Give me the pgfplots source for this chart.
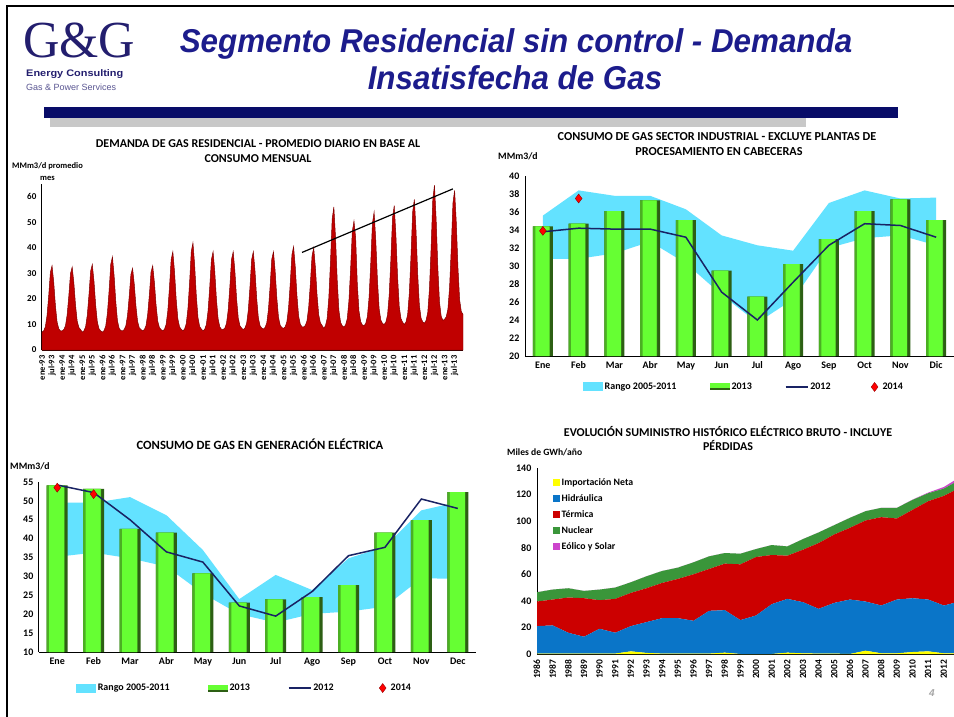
\documentclass[border=0pt]{standalone}
\usepackage{fontspec}
\setmainfont{Carlito}
\newfontfamily\arialf{Liberation Sans}
\newfontfamily\timesf{Liberation Serif}
\usepackage{pgfplots}
\usepackage{pgfplotstable}
\pgfplotsset{compat=1.18}

\definecolor{titlenavy}{RGB}{28,28,140}
\definecolor{barnavy}{RGB}{8,12,104}
\definecolor{graybar}{RGB}{200,200,200}
\definecolor{logonavy}{RGB}{35,30,110}
\definecolor{band}{RGB}{99,226,255}
\definecolor{gbr}{RGB}{102,255,51}
\definecolor{gdk}{RGB}{75,175,35}
\definecolor{gdd}{RGB}{45,95,20}
\definecolor{line12}{RGB}{25,35,100}
\definecolor{resred}{RGB}{192,0,0}
\definecolor{resdark}{RGB}{130,0,0}
\definecolor{imp}{RGB}{255,255,0}
\definecolor{hyd}{RGB}{10,117,200}
\definecolor{ter}{RGB}{204,0,0}
\definecolor{nuc}{RGB}{58,150,58}
\definecolor{eol}{RGB}{204,68,204}

\pgfplotstableread[row sep=\\]{
x y\\ 0 34.4\\ 1 34.7\\ 2 36.1\\ 3 37.3\\ 4 35.1\\ 5 29.5\\ 6 26.6\\ 7 30.2\\ 8 33.0\\ 9 36.1\\ 10 37.4\\ 11 35.1\\
}\indbars
\pgfplotstableread[row sep=\\]{
x y\\ 0 54.1\\ 1 53.2\\ 2 42.6\\ 3 41.6\\ 4 30.8\\ 5 23.1\\ 6 23.9\\ 7 24.5\\ 8 27.7\\ 9 41.6\\ 10 44.9\\ 11 52.3\\
}\elebars

\pgfplotsset{
  ggaxis/.style={scale only axis, anchor=south west, axis x line=bottom, axis y line=left,
    axis line style={-, black, line width=1pt}, tick style={draw=none},
    tick label style={font=\bfseries\fontsize{10}{12}\selectfont},
    /pgf/number format/assume math mode=true, clip=true},
  monthaxis/.style={xmin=-0.5, xmax=11.5, xtick={0,...,11}},
  ggleg/.style={legend style={draw=none, fill=none, legend columns=4, legend cell align=left,
    font=\bfseries\fontsize{10}{12}\selectfont,
    /tikz/every even column/.append style={column sep=#1}}},
  bandleg/.style={legend image code/.code={\fill[band] (0pt,-4.5pt) rectangle (20pt,4.5pt);}},
  barleg/.style={legend image code/.code={\fill[gbr] (0pt,-3.5pt) rectangle (20pt,3.5pt); \fill[gdd] (0pt,-3.5pt) rectangle (20pt,-1.5pt);}},
  lineleg/.style={legend image code/.code={\draw[line12, line width=1.5pt] (0pt,0pt) -- (22pt,0pt);}},
  diamleg/.style={legend image code/.code={\path[draw=none, fill=none] (0pt,-1pt) rectangle (17pt,1pt); \path[fill=red, draw=red!60!black] (11pt,4.5pt) -- (14.4pt,0pt) -- (11pt,-4.5pt) -- (7.6pt,0pt) -- cycle;}},
  boxleg/.style={legend image code/.code={\fill[#1] (0pt,-3.5pt) rectangle (7pt,3.5pt);}},
}

\begin{document}
\begin{tikzpicture}
\useasboundingbox (0pt,0pt) rectangle (954pt,-717pt);
\fill[white] (0pt,0pt) rectangle (954pt,-717pt);
% frame
\draw[black, line width=2pt] (7pt,-717pt) -- (7pt,-6pt) -- (954pt,-6pt);
% logo
\node[anchor=base west, inner sep=0, font=\timesf\fontsize{52}{52}\selectfont, text=logonavy, xscale=0.97] at (23pt,-58pt) {G\&G};
\node[anchor=base west, inner sep=0, font=\arialf\bfseries\fontsize{9.5}{10}\selectfont, text=logonavy, xscale=1.15] at (26pt,-77pt) {Energy Consulting};
\node[anchor=base west, inner sep=0, font=\arialf\fontsize{9}{10}\selectfont, text=logonavy!75, xscale=1.0] at (26pt,-91pt) {Gas \& Power Services};
% main title
\node[anchor=base, inner sep=0, font=\arialf\bfseries\itshape\fontsize{33}{33}\selectfont, text=titlenavy, xscale=0.95] at (516pt,-53pt) {Segmento Residencial sin control - Demanda};
\node[anchor=base, inner sep=0, font=\arialf\bfseries\itshape\fontsize{33}{33}\selectfont, text=titlenavy, xscale=0.95] at (515pt,-90pt) {Insatisfecha de Gas};
% bars under title
\fill[graybar] (50pt,-118pt) rectangle (806pt,-127pt);
\fill[barnavy] (44pt,-107pt) rectangle (898pt,-118pt);

% ---------------- chart 1 ----------------
\node[anchor=base, font=\bfseries\fontsize{12}{14}\selectfont] at (258pt,-147pt) {DEMANDA DE GAS RESIDENCIAL - PROMEDIO DIARIO EN BASE AL};
\node[anchor=base, font=\bfseries\fontsize{12}{14}\selectfont] at (258pt,-162pt) {CONSUMO MENSUAL};
\node[anchor=base west, inner sep=0, font=\bfseries\fontsize{8.5}{10}\selectfont] at (12pt,-168pt) {MMm3/d promedio};
\node[anchor=base west, inner sep=0, font=\bfseries\fontsize{8.5}{10}\selectfont] at (40pt,-180pt) {mes};
\begin{axis}[ggaxis, at={(42pt,-350pt)}, width=421pt, height=166pt,
  xmin=0, xmax=251, ymin=0, ymax=65, ytick={0,10,...,60},
  xtick={0,6,...,246},
  xticklabels={ene-93,jul-93,ene-94,jul-94,ene-95,jul-95,ene-96,jul-96,ene-97,jul-97,ene-98,jul-98,ene-99,jul-99,ene-00,jul-00,ene-01,jul-01,ene-02,jul-02,ene-03,jul-03,ene-04,jul-04,ene-05,jul-05,ene-06,jul-06,ene-07,jul-07,ene-08,jul-08,ene-09,jul-09,ene-10,jul-10,ene-11,jul-11,ene-12,jul-12,ene-13,jul-13},
  xticklabel style={rotate=90, anchor=east, font=\bfseries\fontsize{8.5}{9}\selectfont},
  yticklabel style={font=\bfseries\fontsize{9}{10}\selectfont}]
\addplot[fill=resred, draw=resdark, line width=0.5pt] table[row sep=\\, header=false, x expr=\coordindex, y index=0] {
7\\7.5\\9.1\\13.5\\21.3\\30.4\\33\\26.5\\17.4\\10.9\\8.3\\7.5\\
7.5\\8\\9.5\\13.8\\21.3\\30\\32.5\\26.3\\17.5\\11.3\\8.8\\8\\
7\\7.5\\9.1\\13.6\\21.6\\30.9\\33.5\\26.9\\17.6\\11\\8.3\\7.5\\
7\\7.6\\9.4\\14.4\\23.2\\33.6\\36.5\\29.1\\18.8\\11.4\\8.5\\7.6\\
7.5\\8\\9.5\\13.6\\21\\29.6\\32\\25.9\\17.3\\11.2\\8.7\\8\\
7.5\\8\\9.5\\13.9\\21.5\\30.5\\33\\26.6\\17.7\\11.3\\8.8\\8\\
7.5\\8.1\\10\\15.3\\24.6\\35.4\\38.5\\30.8\\19.9\\12.2\\9.1\\8.1\\
7.5\\8.2\\10.3\\16.1\\26.5\\38.6\\42\\33.4\\21.3\\12.7\\9.2\\8.2\\
7.5\\8.1\\10\\15.3\\24.6\\35.4\\38.5\\30.8\\19.9\\12.2\\9.1\\8.1\\
8\\8.6\\10.4\\15.6\\24.8\\35.5\\38.5\\30.9\\20.2\\12.6\\9.5\\8.6\\
8\\8.6\\10.4\\15.6\\24.8\\35.5\\38.5\\30.9\\20.2\\12.6\\9.5\\8.6\\
8.2\\8.8\\10.6\\15.8\\25\\35.6\\38.5\\31\\20.4\\12.8\\9.7\\8.8\\
8.5\\9.1\\11.1\\16.5\\26.1\\37.3\\40.5\\32.5\\21.3\\13.3\\10.1\\9.1\\
9\\9.6\\11.5\\16.8\\26.1\\36.9\\40\\32.3\\21.4\\13.7\\10.6\\9.6\\
8.5\\9.5\\12.3\\20.4\\34.6\\51.3\\56\\44.1\\27.5\\15.6\\10.9\\9.5\\
9\\9.8\\12.3\\19.4\\31.8\\46.4\\50.5\\44\\25.6\\15.2\\11.1\\9.8\\
9.5\\10.4\\13.1\\20.6\\34\\49.6\\54\\42.9\\27.3\\16.2\\11.7\\10.4\\
10\\10.9\\13.7\\21.6\\35.6\\51.9\\56.5\\44.9\\28.6\\17\\12.3\\10.9\\
10\\11\\13.9\\22.3\\37\\54.1\\59\\46.8\\29.6\\17.4\\12.5\\11\\
10.5\\11.6\\14.8\\24\\40.2\\59.1\\64.5\\51\\32.1\\18.6\\13.2\\11.6\\
12\\13\\16\\24.6\\39.8\\57.5\\62.5\\49.9\\32.2\\19.6\\15\\14\\
} \closedcycle;
\addplot[black, line width=1.2pt] coordinates {(155,38.2) (245,63.1)};
\end{axis}

% ---------------- chart 2 ----------------
\node[anchor=base, font=\bfseries\fontsize{12.2}{14}\selectfont] at (717pt,-140pt) {CONSUMO DE GAS SECTOR INDUSTRIAL - EXCLUYE PLANTAS DE};
\node[anchor=base, font=\bfseries\fontsize{12.2}{14}\selectfont] at (719pt,-155pt) {PROCESAMIENTO EN CABECERAS};
\node[anchor=base west, inner sep=0, font=\bfseries\fontsize{9.8}{11}\selectfont] at (498pt,-159pt) {MMm3/d};
\begin{axis}[ggaxis, monthaxis, at={(525pt,-356pt)}, width=429pt, height=180pt,
  ymin=20, ymax=40, ytick={20,22,...,40},
  xticklabels={Ene,Feb,Mar,Abr,May,Jun,Jul,Ago,Sep,Oct,Nov,Dic},
  ggleg=31pt, legend style={at={(0.51,-0.172)}, anchor=center}]
\addplot[fill=band, draw=none, bandleg] coordinates {
(0,35.6) (1,38.4) (2,37.8) (3,37.8) (4,36.3) (5,33.4) (6,32.3) (7,31.7) (8,37.0) (9,38.4) (10,37.5) (11,37.6)
(11,32.3) (10,33.4) (9,33.1) (8,32.0) (7,26.3) (6,23.7) (5,26.8) (4,30.3) (3,32.7) (2,31.4) (1,30.8) (0,30.8)};
\addplot[ybar, bar width=20pt, bar shift=0pt, draw=none, fill=gdd, barleg] table[x=x, y=y] {\indbars};
\addplot[ybar, bar width=17pt, bar shift=-1.5pt, draw=none, fill=gdk, forget plot] table[x=x, y=y] {\indbars};
\addplot[ybar, bar width=14pt, bar shift=-0.5pt, draw=none, fill=gbr, forget plot] table[x=x, y=y] {\indbars};
\addplot[line12, line width=1.5pt, lineleg] coordinates {
(0,33.8) (1,34.2) (2,34.1) (3,34.1) (4,33.2) (5,27.1) (6,24.0) (7,28.2) (8,32.3) (9,34.7) (10,34.5) (11,33.2)};
\addplot[only marks, mark=diamond*, mark size=4.5pt, mark options={fill=red, draw=red!60!black}, diamleg] coordinates {(0,33.9) (1,37.5)};
\legend{Rango 2005-2011, 2013, 2012, 2014}
\end{axis}

% ---------------- chart 3 ----------------
\node[anchor=base, font=\bfseries\fontsize{12.6}{14}\selectfont] at (260pt,-449pt) {CONSUMO DE GAS EN GENERACIÓN ELÉCTRICA};
\node[anchor=base west, inner sep=0, font=\bfseries\fontsize{9.8}{11}\selectfont] at (10pt,-469pt) {MMm3/d};
\begin{axis}[ggaxis, monthaxis, at={(39pt,-652pt)}, width=437pt, height=170pt,
  ymin=10, ymax=55, ytick={10,15,...,55},
  xticklabels={Ene,Feb,Mar,Abr,May,Jun,Jul,Ago,Sep,Oct,Nov,Dec},
  ggleg=36pt, legend style={at={(0.47,-0.212)}, anchor=center}]
\addplot[fill=band, draw=none, bandleg] coordinates {
(0,49.6) (1,49.5) (2,51.0) (3,46.2) (4,37.0) (5,24.0) (6,30.4) (7,26.4) (8,34.8) (9,37.9) (10,47.5) (11,49.7)
(11,29.4) (10,29.5) (9,22.0) (8,20.7) (7,20.1) (6,17.8) (5,20.0) (4,25.5) (3,32.6) (2,34.8) (1,36.3) (0,35.2)};
\addplot[ybar, bar width=21pt, bar shift=0pt, draw=none, fill=gdd, barleg] table[x=x, y=y] {\elebars};
\addplot[ybar, bar width=18pt, bar shift=-1.5pt, draw=none, fill=gdk, forget plot] table[x=x, y=y] {\elebars};
\addplot[ybar, bar width=15pt, bar shift=-0.5pt, draw=none, fill=gbr, forget plot] table[x=x, y=y] {\elebars};
\addplot[line12, line width=1.5pt, lineleg] coordinates {
(0,54.2) (1,52.2) (2,45.0) (3,36.5) (4,33.8) (5,22.2) (6,19.5) (7,26.0) (8,35.5) (9,37.7) (10,50.5) (11,48.0)};
\addplot[only marks, mark=diamond*, mark size=4.5pt, mark options={fill=red, draw=red!60!black}, diamleg] coordinates {(0,53.5) (1,51.8)};
\legend{Rango 2005-2011, 2013, 2012, 2014}
\end{axis}

% ---------------- chart 4 ----------------
\node[anchor=base, font=\bfseries\fontsize{12}{14}\selectfont] at (728pt,-436pt) {EVOLUCIÓN SUMINISTRO HISTÓRICO ELÉCTRICO BRUTO - INCLUYE};
\node[anchor=base, font=\bfseries\fontsize{12}{14}\selectfont] at (728pt,-450pt) {PÉRDIDAS};
\node[anchor=base west, inner sep=0, font=\bfseries\fontsize{9.6}{11}\selectfont] at (507pt,-455pt) {Miles de GWh/año};
\begin{axis}[ggaxis, at={(537pt,-654pt)}, width=417pt, height=186pt,
  xmin=1986, xmax=2012.65, ymin=0, ymax=140, ytick={0,20,...,140},
  xtick={1986,...,2012},
  xticklabel style={rotate=90, anchor=east, font=\bfseries\fontsize{9.5}{10}\selectfont, /pgf/number format/.cd, 1000 sep={}},
  stack plots=y,
  legend style={at={(0.03,0.965)}, anchor=north west, draw=none, fill=none, font=\bfseries\fontsize{9.8}{11}\selectfont, row sep=3.5pt},
  legend cell align=left]
\addplot[fill=imp, draw=none, boxleg=imp] coordinates {
(1986,0.3) (1987,0.3) (1988,0.3) (1989,0.3) (1990,0.3) (1991,0.3) (1992,2) (1993,0.8) (1994,0.3) (1995,0.3) (1996,0.3) (1997,0.3) (1998,1) (1999,0) (2000,0) (2001,0) (2002,1) (2003,0.5) (2004,0.3) (2005,0.3) (2006,0) (2007,2.5) (2008,0.5) (2009,0.5) (2010,1.5) (2011,2) (2012,0.5) (2013,0.5)} \closedcycle;
\addplot[fill=hyd, draw=none, boxleg=hyd] coordinates {
(1986,20.7) (1987,21.2) (1988,15.7) (1989,12.7) (1990,18.7) (1991,15.7) (1992,19) (1993,23.2) (1994,26.7) (1995,26.7) (1996,24.7) (1997,32.2) (1998,32) (1999,25.5) (2000,29) (2001,37.5) (2002,40.5) (2003,38.5) (2004,33.7) (2005,38.2) (2006,41) (2007,37) (2008,36) (2009,40.5) (2010,40.5) (2011,39) (2012,36) (2013,39)} \closedcycle;
\addplot[fill=ter, draw=none, boxleg=ter] coordinates {
(1986,18.5) (1987,19.5) (1988,26.5) (1989,29) (1990,21.5) (1991,25.5) (1992,25) (1993,25.5) (1994,26.5) (1995,29.5) (1996,35) (1997,31.5) (1998,35) (1999,42) (2000,44) (2001,37) (2002,32.5) (2003,39.5) (2004,49.5) (2005,51.5) (2006,54) (2007,61) (2008,66.5) (2009,61) (2010,66.5) (2011,74) (2012,82.5) (2013,85.5)} \closedcycle;
\addplot[fill=nuc, draw=none, boxleg=nuc] coordinates {
(1986,7) (1987,7.5) (1988,7) (1989,5.5) (1990,8) (1991,8.5) (1992,8) (1993,9) (1994,9) (1995,8.5) (1996,9) (1997,9.5) (1998,8) (1999,8) (2000,6) (2001,7.5) (2002,7) (2003,8) (2004,8) (2005,7) (2006,7.5) (2007,7) (2008,7) (2009,8) (2010,7.5) (2011,6) (2012,5.5) (2013,6)} \closedcycle;
\addplot[fill=eol, draw=none, boxleg=eol] coordinates {
(1986,0) (1987,0) (1988,0) (1989,0) (1990,0) (1991,0) (1992,0) (1993,0) (1994,0) (1995,0) (1996,0) (1997,0) (1998,0) (1999,0) (2000,0) (2001,0) (2002,0) (2003,0) (2004,0) (2005,0) (2006,0) (2007,0) (2008,0) (2009,0) (2010,0.2) (2011,0.5) (2012,1.2) (2013,2)} \closedcycle;
\legend{Importación Neta, Hidráulica, Térmica, Nuclear, Eólico y Solar}
\end{axis}

\node[anchor=base, inner sep=0, font=\arialf\itshape\bfseries\fontsize{10}{10}\selectfont, text=gray!70] at (932pt,-696pt) {4};
\end{tikzpicture}
\end{document}
